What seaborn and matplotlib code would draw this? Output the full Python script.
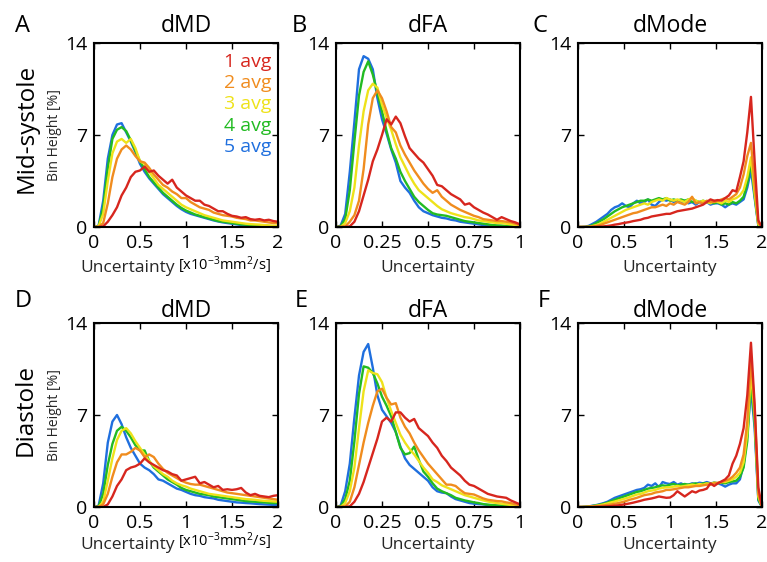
import numpy as np
import pandas as pd
import matplotlib
matplotlib.use("Agg")
import matplotlib.pyplot as plt
import seaborn as sns

# ---------------- data ----------------
series_labels = ["1 avg", "2 avg", "3 avg", "4 avg", "5 avg"]
series_colors = ["#d7261e", "#f08c1e", "#eee21a", "#22bb22", "#1f6fde"]

# bin centres
x_md = np.round(np.arange(0, 2.0001, 0.05), 3)
x_fa = np.round(np.arange(0, 1.0001, 0.025), 3)
x_mode = np.round(np.arange(0, 2.0001, 0.04), 3)

# Mid-systole dMD
md_sys_1 = [0, 0, 0.05, 0.4, 0.9, 1.5, 2.4, 3.0, 3.8, 4.2, 4.3, 4.6, 4.2, 4.3, 3.9, 3.6, 3.3, 3.6, 3.0, 2.7, 2.4, 2.2, 2.0, 2.0, 1.7, 1.6, 1.4, 1.2, 1.2, 1.0, 0.85, 0.8, 0.7, 0.75, 0.6, 0.55, 0.6, 0.5, 0.55, 0.45, 0.4]
md_sys_2 = [0, 0, 0.3, 1.8, 3.8, 5.2, 5.9, 6.2, 5.9, 5.4, 5.0, 4.9, 4.5, 4.0, 3.6, 3.2, 3.0, 2.7, 2.5, 2.2, 2.2, 1.9, 1.7, 1.5, 1.4, 1.3, 1.1, 1.0, 0.9, 0.85, 0.8, 0.7, 0.65, 0.6, 0.5, 0.5, 0.45, 0.4, 0.35, 0.3, 0.3]
md_sys_3 = [0, 0.05, 1.0, 3.5, 5.6, 6.5, 6.7, 6.4, 6.7, 6.0, 5.0, 4.8, 4.2, 3.7, 3.2, 2.9, 2.6, 2.3, 2.0, 1.7, 1.5, 1.35, 1.2, 1.05, 0.9, 0.8, 0.7, 0.6, 0.5, 0.45, 0.4, 0.35, 0.3, 0.25, 0.22, 0.2, 0.18, 0.15, 0.12, 0.1, 0.1]
md_sys_4 = [0, 0.05, 1.5, 4.5, 6.7, 7.4, 7.6, 7.3, 6.6, 5.8, 5.0, 4.4, 3.8, 3.4, 3.0, 2.6, 2.3, 2.0, 1.7, 1.45, 1.25, 1.1, 0.95, 0.85, 0.75, 0.65, 0.55, 0.45, 0.4, 0.35, 0.3, 0.25, 0.2, 0.18, 0.15, 0.12, 0.1, 0.1, 0.08, 0.06, 0.05]
md_sys_5 = [0, 0.1, 2.0, 5.2, 7.0, 7.8, 7.9, 7.2, 6.5, 5.7, 4.8, 4.2, 3.7, 3.3, 2.9, 2.5, 2.2, 1.9, 1.6, 1.35, 1.15, 1.0, 0.9, 0.8, 0.7, 0.6, 0.5, 0.42, 0.35, 0.3, 0.25, 0.2, 0.15, 0.12, 0.1, 0.1, 0.08, 0.06, 0.05, 0.05, 0.05]

# Mid-systole dFA
fa_sys_1 = [0, 0, 0, 0.05, 0.4, 1.2, 2.4, 3.6, 5.0, 5.9, 7.0, 8.2, 7.8, 8.4, 7.9, 6.9, 6.0, 5.6, 5.2, 4.9, 4.4, 3.9, 3.2, 3.1, 2.8, 2.5, 2.3, 2.1, 1.7, 1.8, 1.5, 1.3, 1.1, 0.95, 0.75, 0.55, 0.75, 0.6, 0.45, 0.35, 0.2]
fa_sys_2 = [0, 0, 0.05, 0.4, 0.9, 2.0, 4.4, 7.8, 9.8, 10.4, 9.8, 8.8, 7.6, 7.2, 6.2, 5.5, 4.9, 4.3, 3.8, 3.3, 2.9, 2.6, 2.8, 2.3, 2.0, 1.7, 1.5, 1.3, 1.15, 1.0, 0.85, 0.75, 0.6, 0.55, 0.5, 0.45, 0.45, 0.4, 0.35, 0.25, 0.15]
fa_sys_3 = [0, 0, 0.3, 1.2, 3.0, 6.2, 8.8, 10.4, 10.9, 10.6, 9.3, 8.3, 7.4, 6.3, 5.3, 4.6, 3.9, 3.3, 2.8, 2.5, 2.2, 1.9, 1.6, 1.35, 1.2, 1.05, 0.95, 0.85, 0.75, 0.7, 0.6, 0.5, 0.45, 0.4, 0.35, 0.3, 0.3, 0.25, 0.2, 0.15, 0.1]
fa_sys_4 = [0, 0.05, 0.6, 2.8, 6.5, 10.0, 11.8, 12.6, 11.6, 10.2, 8.8, 7.3, 6.0, 5.2, 4.2, 3.5, 2.9, 2.3, 1.9, 1.6, 1.3, 1.05, 0.95, 0.9, 0.85, 0.75, 0.65, 0.55, 0.45, 0.4, 0.35, 0.3, 0.25, 0.2, 0.15, 0.12, 0.1, 0.08, 0.06, 0.04, 0.02]
fa_sys_5 = [0, 0.1, 1.0, 4.2, 8.0, 12.0, 13.0, 12.8, 12.0, 9.8, 8.2, 7.1, 5.9, 4.9, 3.5, 3.0, 2.6, 2.0, 1.5, 1.2, 1.05, 0.9, 0.8, 0.7, 0.65, 0.55, 0.5, 0.4, 0.35, 0.3, 0.25, 0.2, 0.15, 0.15, 0.1, 0.1, 0.08, 0.05, 0.05, 0.03, 0.02]

# Mid-systole dMode
mode_sys_1 = [0, 0, 0, 0, 0, 0.01, 0.03, 0.05, 0.08, 0.12, 0.18, 0.22, 0.28, 0.33, 0.38, 0.45, 0.5, 0.55, 0.65, 0.7, 0.8, 0.85, 0.9, 0.95, 1.0, 1.0, 1.1, 1.2, 1.25, 1.3, 1.35, 1.4, 1.5, 1.6, 1.7, 1.9, 2.1, 2.0, 2.05, 2.0, 2.2, 2.4, 2.8, 2.7, 3.8, 5.0, 7.2, 9.9, 5.0, 0.5, 0]
mode_sys_2 = [0, 0, 0, 0.01, 0.04, 0.08, 0.15, 0.25, 0.35, 0.45, 0.55, 0.65, 0.75, 0.85, 0.95, 1.05, 1.1, 1.2, 1.3, 1.4, 1.5, 1.5, 1.6, 1.7, 1.6, 1.8, 1.7, 1.9, 1.8, 1.7, 1.9, 2.3, 1.8, 1.9, 1.8, 2.0, 1.9, 1.9, 2.0, 2.1, 2.2, 2.1, 2.3, 2.5, 3.0, 4.0, 5.4, 6.4, 3.2, 0.3, 0]
mode_sys_3 = [0, 0, 0, 0.02, 0.08, 0.15, 0.25, 0.4, 0.55, 0.7, 0.85, 1.0, 1.15, 1.3, 1.4, 1.5, 1.6, 1.7, 1.8, 1.7, 1.9, 2.0, 2.1, 2.0, 2.2, 2.1, 2.0, 2.1, 2.0, 1.9, 2.1, 2.2, 2.0, 1.9, 2.0, 1.9, 1.8, 2.0, 1.9, 1.8, 2.0, 1.9, 2.1, 2.2, 2.4, 2.8, 3.8, 5.3, 2.6, 0.2, 0]
mode_sys_4 = [0, 0, 0.01, 0.05, 0.15, 0.3, 0.45, 0.6, 0.8, 1.0, 1.2, 1.35, 1.5, 1.6, 1.7, 1.8, 1.9, 2.0, 2.0, 2.1, 2.0, 2.1, 2.2, 2.1, 2.2, 2.0, 2.1, 2.0, 2.1, 2.0, 2.1, 1.9, 2.0, 1.9, 2.0, 1.9, 1.9, 1.8, 1.9, 1.7, 1.8, 1.7, 1.9, 1.8, 2.0, 2.3, 3.3, 4.9, 2.4, 0.15, 0]
mode_sys_5 = [0, 0, 0.02, 0.1, 0.25, 0.4, 0.6, 0.8, 1.0, 1.3, 1.5, 1.6, 1.8, 1.6, 1.5, 1.8, 2.0, 1.8, 1.9, 2.1, 1.7, 1.6, 1.9, 2.1, 2.0, 2.1, 1.9, 2.0, 1.9, 2.0, 1.8, 1.9, 1.7, 1.9, 1.8, 1.9, 1.7, 1.8, 1.8, 1.7, 1.5, 1.7, 1.8, 1.7, 1.9, 2.1, 3.0, 4.3, 2.2, 0.1, 0]

# Diastole dMD
md_dia_1 = [0, 0, 0, 0.2, 0.8, 1.6, 2.1, 2.8, 3.0, 3.1, 3.3, 3.7, 3.4, 3.2, 3.0, 2.8, 2.7, 2.5, 2.4, 2.0, 2.1, 2.2, 2.3, 1.8, 1.9, 1.7, 1.5, 1.6, 1.3, 1.35, 1.3, 1.35, 1.45, 1.1, 0.9, 1.0, 0.85, 0.8, 0.75, 0.85, 0.9]
md_dia_2 = [0, 0, 0.2, 1.0, 2.3, 3.4, 4.0, 4.0, 4.2, 4.5, 4.3, 3.8, 4.0, 3.8, 3.3, 2.9, 2.6, 2.4, 2.2, 2.0, 1.85, 1.75, 1.7, 1.7, 1.6, 1.5, 1.4, 1.3, 1.2, 1.1, 1.05, 1.0, 0.95, 0.9, 0.85, 0.8, 0.75, 0.7, 0.65, 0.6, 0.55]
md_dia_3 = [0, 0, 0.4, 2.0, 3.7, 5.1, 5.8, 6.0, 5.6, 5.0, 4.5, 4.0, 3.5, 3.1, 2.8, 2.5, 2.3, 2.0, 1.8, 1.65, 1.55, 1.4, 1.3, 1.2, 1.1, 1.0, 0.95, 0.9, 0.85, 0.8, 0.75, 0.7, 0.65, 0.6, 0.58, 0.55, 0.5, 0.47, 0.45, 0.42, 0.4]
md_dia_4 = [0, 0.05, 1.0, 3.2, 4.8, 5.8, 6.1, 5.8, 5.3, 4.7, 4.3, 4.3, 3.5, 3.0, 2.7, 2.4, 2.1, 1.9, 1.7, 1.45, 1.3, 1.2, 1.1, 1.0, 0.95, 0.9, 0.8, 0.75, 0.7, 0.65, 0.6, 0.55, 0.5, 0.45, 0.42, 0.4, 0.38, 0.35, 0.32, 0.3, 0.3]
md_dia_5 = [0, 0.1, 1.8, 4.9, 6.5, 7.0, 6.3, 5.3, 4.5, 3.9, 3.3, 3.0, 2.8, 2.5, 2.1, 2.0, 1.8, 1.6, 1.4, 1.3, 1.15, 1.0, 0.9, 0.85, 0.75, 0.7, 0.65, 0.55, 0.5, 0.45, 0.4, 0.35, 0.33, 0.3, 0.28, 0.25, 0.22, 0.2, 0.18, 0.16, 0.15]

# Diastole dFA
fa_dia_1 = [0, 0, 0, 0.05, 0.4, 1.0, 1.9, 3.0, 4.1, 5.2, 6.5, 6.8, 6.5, 7.2, 7.2, 6.8, 6.5, 6.7, 6.0, 5.7, 5.4, 4.9, 4.5, 3.9, 3.5, 3.0, 2.7, 2.4, 2.0, 1.7, 1.6, 1.4, 1.2, 1.0, 0.9, 0.8, 0.75, 0.7, 0.5, 0.35, 0.2]
fa_dia_2 = [0, 0, 0.05, 0.4, 1.5, 3.2, 4.9, 6.4, 7.7, 8.8, 9.0, 8.3, 7.8, 7.9, 6.8, 6.1, 5.6, 4.9, 4.3, 3.8, 3.3, 2.9, 2.5, 2.1, 1.7, 1.7, 1.6, 1.3, 1.05, 1.0, 0.95, 0.8, 0.65, 0.55, 0.5, 0.45, 0.43, 0.35, 0.3, 0.2, 0.15]
fa_dia_3 = [0, 0, 0.3, 1.2, 3.0, 6.0, 8.8, 10.4, 10.2, 10.1, 9.5, 8.3, 7.3, 6.4, 5.5, 4.9, 4.4, 4.0, 3.5, 3.0, 2.6, 2.1, 1.9, 1.65, 1.5, 1.35, 1.2, 1.05, 0.9, 0.8, 0.7, 0.6, 0.5, 0.42, 0.35, 0.3, 0.25, 0.2, 0.15, 0.1, 0.05]
fa_dia_4 = [0, 0.05, 0.6, 2.0, 5.0, 8.6, 10.7, 10.6, 10.2, 9.4, 8.4, 7.7, 6.9, 5.7, 4.5, 4.0, 4.1, 4.6, 3.6, 2.7, 2.3, 1.8, 1.4, 1.2, 1.05, 0.9, 0.7, 0.6, 0.5, 0.43, 0.35, 0.3, 0.22, 0.18, 0.15, 0.12, 0.1, 0.08, 0.06, 0.04, 0.03]
fa_dia_5 = [0, 0.1, 1.2, 3.3, 6.8, 10.0, 11.8, 12.4, 10.6, 8.5, 7.4, 6.9, 6.4, 5.7, 4.6, 3.7, 3.2, 2.9, 2.6, 2.3, 2.0, 1.5, 1.2, 1.1, 1.05, 0.8, 0.6, 0.5, 0.4, 0.3, 0.25, 0.22, 0.2, 0.15, 0.12, 0.1, 0.08, 0.06, 0.05, 0.03, 0.02]

# Diastole dMode
mode_dia_1 = [0, 0, 0, 0, 0, 0.01, 0.02, 0.03, 0.05, 0.07, 0.1, 0.13, 0.17, 0.22, 0.27, 0.33, 0.4, 0.47, 0.55, 0.6, 0.65, 0.72, 0.8, 0.75, 0.7, 0.72, 0.9, 1.2, 1.0, 0.8, 1.0, 1.2, 1.1, 1.25, 1.3, 1.4, 1.8, 1.6, 1.8, 1.95, 2.1, 2.4, 3.3, 3.9, 4.8, 6.0, 8.5, 12.5, 7.8, 1.5, 0]
mode_dia_2 = [0, 0, 0, 0.02, 0.04, 0.06, 0.09, 0.12, 0.16, 0.2, 0.25, 0.3, 0.37, 0.45, 0.55, 0.62, 0.7, 0.8, 0.9, 0.95, 1.0, 1.1, 1.15, 1.2, 1.3, 1.3, 1.35, 1.4, 1.45, 1.5, 1.5, 1.55, 1.6, 1.6, 1.65, 1.7, 1.7, 1.8, 1.85, 1.9, 2.0, 2.1, 2.3, 2.6, 3.0, 4.0, 6.5, 11.3, 7.5, 1.0, 0]
mode_dia_3 = [0, 0, 0.01, 0.03, 0.06, 0.1, 0.14, 0.2, 0.27, 0.35, 0.42, 0.5, 0.58, 0.66, 0.75, 0.85, 0.95, 1.0, 1.1, 1.2, 1.25, 1.3, 1.4, 1.45, 1.5, 1.5, 1.55, 1.6, 1.55, 1.6, 1.65, 1.7, 1.65, 1.75, 1.7, 1.8, 1.75, 1.85, 1.8, 1.9, 1.9, 2.0, 2.1, 2.3, 2.6, 3.4, 5.6, 10.3, 7.0, 0.8, 0]
mode_dia_4 = [0, 0, 0.02, 0.04, 0.08, 0.12, 0.18, 0.25, 0.33, 0.45, 0.55, 0.65, 0.75, 0.85, 0.95, 1.05, 1.15, 1.2, 1.3, 1.4, 1.45, 1.5, 1.6, 1.65, 1.6, 1.7, 1.75, 1.65, 1.7, 1.75, 1.7, 1.75, 1.8, 1.7, 1.8, 1.8, 1.75, 1.85, 1.8, 1.85, 1.8, 1.9, 1.95, 2.0, 2.3, 3.0, 5.0, 9.6, 6.5, 0.6, 0]
mode_dia_5 = [0, 0, 0.02, 0.05, 0.1, 0.15, 0.22, 0.3, 0.4, 0.55, 0.7, 0.8, 0.9, 1.0, 1.1, 1.2, 1.3, 1.35, 1.45, 1.7, 1.6, 1.8, 1.5, 1.9, 1.8, 1.75, 1.9, 1.7, 1.8, 1.65, 1.7, 1.8, 1.75, 1.85, 1.8, 1.9, 1.8, 1.85, 1.8, 1.7, 1.55, 1.7, 1.8, 1.8, 2.1, 3.2, 5.5, 9.0, 6.0, 0.5, 0]

md_ticks = [0, 0.5, 1, 1.5, 2]
md_ticklabels = ["0", "0.5", "1", "1.5", "2"]
fa_ticks = [0, 0.25, 0.5, 0.75, 1]
fa_ticklabels = ["0", "0.25", "0.5", "0.75", "1"]
y_ticks = [0, 7, 14]
y_ticklabels = ["0", "7", "14"]

# ---------------- style ----------------
sns.set_theme(style="ticks")
plt.rcParams["font.family"] = ["Open Sans", "DejaVu Sans"]
plt.rcParams["mathtext.fontset"] = "custom"
plt.rcParams["mathtext.rm"] = "Open Sans"
plt.rcParams["mathtext.it"] = "Open Sans:italic"
plt.rcParams["mathtext.bf"] = "Open Sans:bold"
plt.rcParams["axes.edgecolor"] = "black"
plt.rcParams["text.color"] = "black"

W, H = 767.0, 562.0
fig = plt.figure(figsize=(W / 100, H / 100), dpi=100)

palette = dict(zip(series_labels, series_colors))


def make_df(x, ys):
    frames = [pd.DataFrame({"x": x, "y": y, "avg": lab}) for lab, y in zip(series_labels, ys)]
    return pd.concat(frames, ignore_index=True)


panels = [
    (94, 43, x_md, [md_sys_1, md_sys_2, md_sys_3, md_sys_4, md_sys_5], 2, md_ticks, md_ticklabels, "dMD", "A", (15, 32), 0),
    (336, 43, x_fa, [fa_sys_1, fa_sys_2, fa_sys_3, fa_sys_4, fa_sys_5], 1, fa_ticks, fa_ticklabels, "dFA", "B", (292, 32), 0),
    (578, 43, x_mode, [mode_sys_1, mode_sys_2, mode_sys_3, mode_sys_4, mode_sys_5], 2, md_ticks, md_ticklabels, "dMode", "C", (532, 32), 0),
    (94, 323, x_md, [md_dia_1, md_dia_2, md_dia_3, md_dia_4, md_dia_5], 2, md_ticks, md_ticklabels, "dMD", "D", (15, 307), 1),
    (336, 323, x_fa, [fa_dia_1, fa_dia_2, fa_dia_3, fa_dia_4, fa_dia_5], 1, fa_ticks, fa_ticklabels, "dFA", "E", (295, 307), 1),
    (578, 323, x_mode, [mode_dia_1, mode_dia_2, mode_dia_3, mode_dia_4, mode_dia_5], 2, md_ticks, md_ticklabels, "dMode", "F", (538, 307), 1),
]

SIZE = 184
for i, (lpx, tpx, x, ys, xmax, ticks, ticklabels, title, letter, lpos, row) in enumerate(panels):
    ax = fig.add_axes([lpx / W, 1 - (tpx + SIZE) / H, SIZE / W, SIZE / H])
    df = make_df(x, ys)
    sns.lineplot(data=df, x="x", y="y", hue="avg", hue_order=series_labels[::-1],
                 palette=palette, linewidth=1.7, legend=False, errorbar=None, ax=ax)
    ax.set_xlim(0, xmax)
    ax.set_ylim(0, 14)
    ax.set_xticks(ticks)
    ax.set_xticklabels(ticklabels)
    ax.set_yticks(y_ticks)
    ax.set_yticklabels(y_ticklabels)
    ax.tick_params(direction="in", top=True, right=True, length=4, width=1,
                   labelsize=14, colors="black")
    ax.tick_params(axis="x", pad=5)
    ax.tick_params(axis="y", pad=5)
    for sp in ax.spines.values():
        sp.set_linewidth(1.5)
        sp.set_color("black")
    ax.set_title(title, fontsize=16.5, pad=8 if row == 0 else 4.5)
    fig.text(lpos[0] / W, 1 - lpos[1] / H, letter, fontsize=17, ha="left", va="baseline")

    lp = 6 if row == 0 else 3.5
    if i % 3 == 0:
        xl = ax.set_xlabel("Uncertainty", fontsize=12.5, labelpad=lp, ha="right", x=0.44)
        ax.annotate(r"$\mathregular{[x10^{-3}mm^{2}/s]}$", xy=(1, 0), xycoords=xl,
                    xytext=(2, 0.5), textcoords="offset points", ha="left", va="bottom",
                    fontsize=10.5)
        ax.set_ylabel("Bin Height [%]", fontsize=10)
        ax.yaxis.set_label_coords(-0.174, 0.5)
    else:
        ax.set_xlabel("Uncertainty", fontsize=12.5, labelpad=lp)
        ax.set_ylabel("")

    if i == 0:
        for k, (lab, col) in enumerate(zip(series_labels, series_colors)):
            ax.text(0.707, 0.871 - 0.116 * k, lab, color=col, fontsize=14,
                    transform=ax.transAxes, ha="left", va="baseline")

fig.text(27 / W, 1 - 128 / H, "Mid-systole", rotation=90, fontsize=17.5, ha="center", va="center")
fig.text(26 / W, 1 - 410 / H, "Diastole", rotation=90, fontsize=17.5, ha="center", va="center")

fig.savefig("out.png", dpi=100, facecolor="white")
